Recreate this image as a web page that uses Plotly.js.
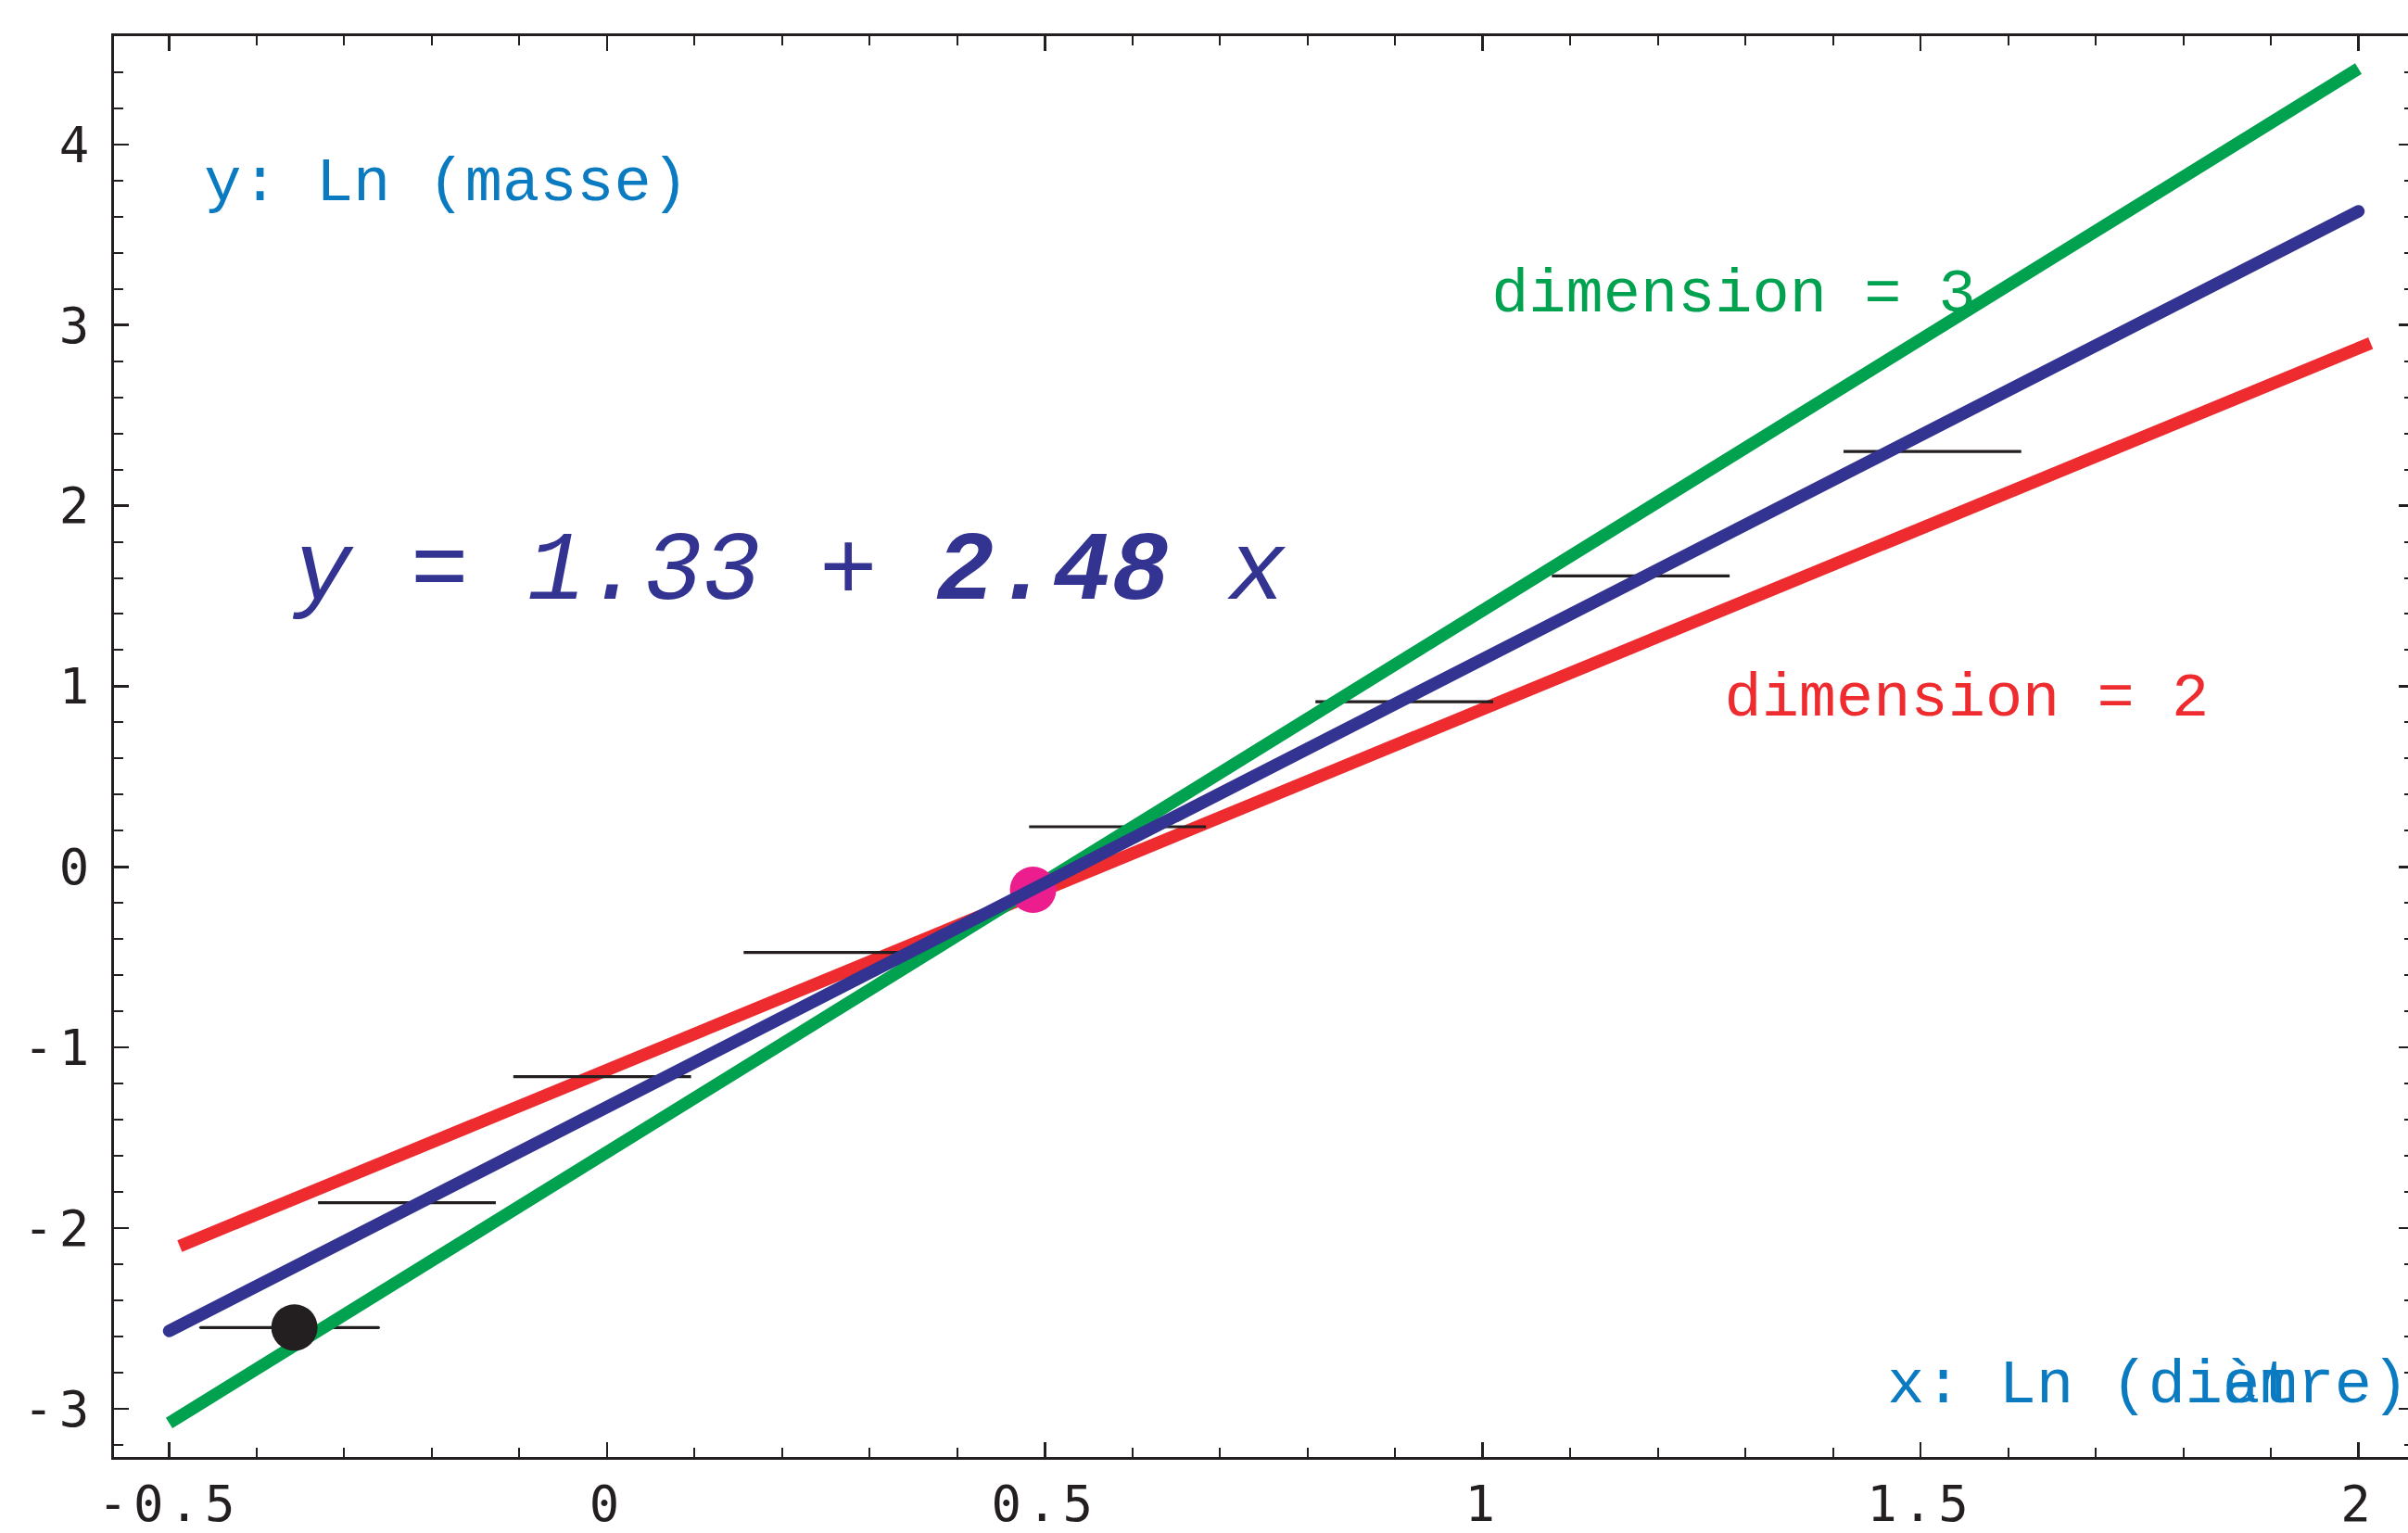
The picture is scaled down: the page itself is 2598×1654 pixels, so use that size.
<!DOCTYPE html>
<html>
<head>
<meta charset="utf-8">
<script src="https://cdn.plot.ly/plotly-3.0.1.min.js"></script>
<style>
html, body { margin: 0; padding: 0; background: #ffffff; overflow: hidden; }
#chart { width: 2612px; height: 1654px; }
.xtick text, .ytick text { letter-spacing: 6px; }
</style>
</head>
<body>
<div id="chart"></div>
<script>
// ---- data ----
// horizontal bars (x range of each class, ln of mass)
const barXLow  = [-0.464, -0.330, -0.107, 0.156, 0.482, 0.809, 1.079, 1.412];
const barXHigh = [-0.261, -0.127, 0.096, 0.359, 0.684, 1.012, 1.282, 1.615];
const barY     = [-2.551, -1.860, -1.162, -0.474, 0.222, 0.914, 1.611, 2.300];

// fitted line  y = -1.33 + 2.48 x  (endpoints)
const fitX = [-0.5, 2.0];
const fitY = [-2.57, 3.63];
// dimension = 3 line
const dim3X = [-0.5, 2.0];
const dim3Y = [-3.08, 4.42];
// dimension = 2 line
const dim2X = [-0.488, 2.014];
const dim2Y = [-2.10, 2.90];

// marked points
const blackPtX = [-0.357];
const blackPtY = [-2.551];
const pinkPtX = [0.4865];
const pinkPtY = [-0.127];

// tick labels
const xTickVals = [-0.5, 0, 0.5, 1, 1.5, 2];
const xTickText = ['-0.5', '0', '0.5', '1', '1.5', '2'];
const yTickVals = [-3, -2, -1, 0, 1, 2, 3, 4];
const yTickText = ['-3', '-2', '-1', '0', '1', '2', '3', '4'];

// text labels
const labelYAxis = 'y: Ln (masse)';
const labelXAxisA = 'x: Ln (diam';
const labelXAxisB = '\u00a0\u00a0\u00a0\u00a0\u00a0\u00a0\u00a0\u00a0\u00a0ètre)';
const labelDim3 = 'dimension = 3';
const labelDim2 = 'dimension = 2';
const labelEq = '<i>y = 1.33 + <b>2.48</b> x</i>';

// ---- styles ----
const cBlue = '#333391';
const cGreen = '#00A14F';
const cRed = '#EE2B2F';
const cPink = '#EC1E8E';
const cInk = '#231F20';
const cLabel = '#0B7BC1';
const mono = '"Liberation Mono", "Courier New", monospace';

function textTrace(x, y, txt, color, size) {
  return {
    type: 'scatter', mode: 'text', x: [x], y: [y], text: [txt],
    textposition: 'middle right', hoverinfo: 'skip', showlegend: false,
    textfont: { family: mono, size: size, color: color }
  };
}

// bars built as one trace with gaps
const barsX = [], barsY = [];
for (let i = 0; i < barY.length; i++) {
  barsX.push(barXLow[i], barXHigh[i], null);
  barsY.push(barY[i], barY[i], null);
}

const traces = [
  textTrace(-0.460, 3.78, labelYAxis, cLabel, 67),
  textTrace(1.010, 3.16, labelDim3, cGreen, 67),
  textTrace(1.276, 0.925, labelDim2, cRed, 67),
  textTrace(-0.358, 1.62, labelEq, cBlue, 105),
  textTrace(1.462, -2.878, labelXAxisA, cLabel, 67),
  textTrace(1.462, -2.878, labelXAxisB, cLabel, 67),
  { type: 'scatter', mode: 'lines', x: dim2X, y: dim2Y, line: { color: cRed, width: 13.5 }, hoverinfo: 'skip', showlegend: false },
  { type: 'scatter', mode: 'lines', x: barsX, y: barsY, connectgaps: false, line: { color: cInk, width: 3.2 }, hoverinfo: 'skip', showlegend: false },
  { type: 'scatter', mode: 'lines', x: dim3X, y: dim3Y, line: { color: cGreen, width: 13.5 }, hoverinfo: 'skip', showlegend: false },
  { type: 'scatter', mode: 'markers', x: pinkPtX, y: pinkPtY, marker: { color: cPink, size: 50, line: { width: 0 } }, hoverinfo: 'skip', showlegend: false },
  { type: 'scatter', mode: 'lines', x: fitX, y: fitY, line: { color: cBlue, width: 13.5 }, hoverinfo: 'skip', showlegend: false },
  { type: 'scatter', mode: 'markers', x: blackPtX, y: blackPtY, marker: { color: cInk, size: 50, line: { width: 0 } }, hoverinfo: 'skip', showlegend: false }
];

const axisCommon = {
  showgrid: false, zeroline: false, showline: true, linecolor: cInk, linewidth: 3,
  mirror: 'ticks', ticks: 'inside', ticklen: 16, tickwidth: 2.5, tickcolor: cInk,
  tickmode: 'array',
  tickfont: { family: '"DejaVu Sans Mono", monospace', size: 54, color: cInk }
};

const layout = {
  width: 2612, height: 1654,
  margin: { l: 123, r: 8, t: 39, b: 82 },
  paper_bgcolor: '#ffffff', plot_bgcolor: '#ffffff',
  showlegend: false,
  xaxis: Object.assign({}, axisCommon, {
    range: [-0.563, 2.063], tickvals: xTickVals, ticktext: xTickText,
    ticklabelstandoff: 1,
    minor: { tickmode: 'linear', tick0: 0, dtick: 0.1, ticks: 'inside', ticklen: 10, tickwidth: 2, tickcolor: cInk, showgrid: false }
  }),
  yaxis: Object.assign({}, axisCommon, {
    range: [-3.268, 4.600], tickvals: yTickVals, ticktext: yTickText,
    ticklabelstandoff: 7,
    minor: { tickmode: 'linear', tick0: 0, dtick: 0.2, ticks: 'inside', ticklen: 10, tickwidth: 2, tickcolor: cInk, showgrid: false }
  })
};

Plotly.newPlot('chart', traces, layout, { displayModeBar: false, staticPlot: true, responsive: false }).then(function () {
  const groups = document.querySelectorAll('.scatterlayer .trace');
  // blue fit line has round caps in the reference
  const blue = groups[10] && groups[10].querySelector('.js-line');
  if (blue) blue.style.strokeLinecap = 'round';
  const bars = groups[7] && groups[7].querySelector('.js-line');
  if (bars) bars.style.strokeLinecap = 'round';
});
</script>
</body>
</html>
